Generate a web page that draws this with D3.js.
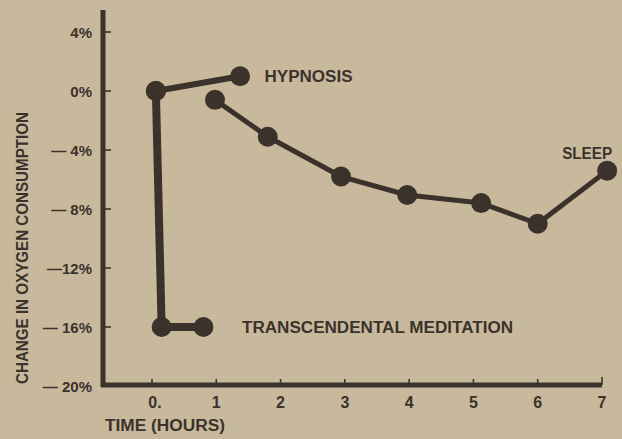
<!DOCTYPE html>
<html>
<head>
<meta charset="utf-8">
<script src="https://cdn.jsdelivr.net/npm/d3@7"></script>
<style>
  html, body { margin: 0; padding: 0; background: #c9b99c; }
  svg { display: block; }
  text { font-family: "Liberation Sans", Arial, sans-serif; font-weight: bold; fill: #3b322c; }
</style>
</head>
<body>
<svg id="chart"></svg>
<script>
// values (hours, % change)
var sleepTime = [0.98, 1.8, 2.94, 3.97, 5.12, 6.0, 7.08];
var sleepVal  = [-0.6, -3.1, -5.8, -7.05, -7.6, -9.0, -5.4];

var hypTime = [0.06, 1.37];
var hypVal  = [0, 1.0];

var tmTime = [0.06, 0.15, 0.8];
var tmVal  = [0, -16, -16];

var yTicks = [4, 0, -4, -8, -12, -16, -20];
var yTickLabels = ['4%', '0%', '— 4%', '— 8%', '—12%', '— 16%', '— 20%'];
var xTicks = [0, 1, 2, 3, 4, 5, 6, 7];
var xTickLabels = ['0.', '1', '2', '3', '4', '5', '6', '7'];

var width = 622,
    height = 439,
    ink = '#3b322c';

var svg = d3.select('#chart')
  .attr('width', width)
  .attr('height', height);

var x = d3.scaleLinear().domain([0, 7]).range([152, 602]);
var y = d3.scaleLinear().domain([-20, 4]).range([386, 32]);

var axisX = 103;

// axes
svg.append('line')
  .attr('x1', axisX).attr('x2', axisX)
  .attr('y1', 10).attr('y2', y(-20) + 1)
  .attr('stroke', ink).attr('stroke-width', 5);

svg.append('line')
  .attr('x1', axisX - 2).attr('x2', x(7))
  .attr('y1', y(-20) - 1).attr('y2', y(-20) - 1)
  .attr('stroke', ink).attr('stroke-width', 5);

svg.selectAll('.ytick')
  .data(yTicks.slice(0, -1))
  .enter().append('line')
    .attr('x1', axisX).attr('x2', axisX + 8)
    .attr('y1', function (d) { return y(d); })
    .attr('y2', function (d) { return y(d); })
    .attr('stroke', ink).attr('stroke-width', 1.6);

svg.selectAll('.ylab')
  .data(yTicks)
  .enter().append('text')
    .attr('x', 92)
    .attr('y', function (d) { return y(d) + 5.5; })
    .attr('text-anchor', 'end')
    .style('font-size', '15px')
    .text(function (d, i) { return yTickLabels[i]; });

svg.selectAll('.xtick')
  .data(xTicks)
  .enter().append('line')
    .attr('x1', function (d) { return x(d); })
    .attr('x2', function (d) { return x(d); })
    .attr('y1', function (d) { return d === 7 ? y(-20) - 9 : y(-20) - 7; })
    .attr('y2', y(-20) - 1)
    .attr('stroke', ink).attr('stroke-width', 1.6);

svg.selectAll('.xlab')
  .data(xTicks)
  .enter().append('text')
    .attr('x', function (d) { return x(d) + (d === 0 ? 3 : 0); })
    .attr('y', 408)
    .attr('text-anchor', 'middle')
    .style('font-size', '16px')
    .text(function (d, i) { return xTickLabels[i]; });

svg.append('text')
  .attr('x', 105).attr('y', 431)
  .attr('textLength', 120).attr('lengthAdjust', 'spacingAndGlyphs')
  .style('font-size', '16px')
  .text('TIME (HOURS)');

svg.append('text')
  .attr('transform', 'translate(28,' + 248 + ') rotate(-90)')
  .attr('text-anchor', 'middle')
  .attr('textLength', 272).attr('lengthAdjust', 'spacingAndGlyphs')
  .style('font-size', '16px')
  .text('CHANGE IN OXYGEN CONSUMPTION');

// series
var line = d3.line()
  .x(function (d) { return x(d[0]); })
  .y(function (d) { return y(d[1]); });

function drawSeries(times, vals, w) {
  var pts = d3.zip(times, vals);
  svg.append('path')
    .datum(pts)
    .attr('d', line)
    .attr('fill', 'none')
    .attr('stroke', ink)
    .attr('stroke-width', w)
    .attr('stroke-linejoin', 'round');
  svg.append('g').selectAll('circle')
    .data(pts)
    .enter().append('circle')
      .attr('cx', function (d) { return x(d[0]); })
      .attr('cy', function (d) { return y(d[1]); })
      .attr('r', 10)
      .attr('fill', ink);
}

drawSeries(sleepTime, sleepVal, 5);
drawSeries(tmTime, tmVal, 8);
drawSeries(hypTime, hypVal, 6);

// series labels
svg.append('text')
  .attr('x', x(1.75)).attr('y', y(1) + 6)
  .attr('textLength', 88).attr('lengthAdjust', 'spacingAndGlyphs')
  .style('font-size', '16px')
  .text('HYPNOSIS');

svg.append('text')
  .attr('x', x(1.4)).attr('y', y(-16) + 6)
  .attr('textLength', 271).attr('lengthAdjust', 'spacingAndGlyphs')
  .style('font-size', '16px')
  .text('TRANSCENDENTAL MEDITATION');

svg.append('text')
  .attr('x', x(6.38)).attr('y', y(-4.2) + 6)
  .attr('textLength', 50).attr('lengthAdjust', 'spacingAndGlyphs')
  .style('font-size', '16px')
  .text('SLEEP');
</script>
</body>
</html>
